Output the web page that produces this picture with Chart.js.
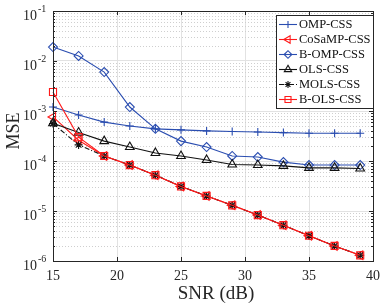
<!DOCTYPE html>
<html>
<head>
<meta charset="utf-8">
<script src="https://cdn.jsdelivr.net/npm/chart.js@4/dist/chart.umd.min.js"></script>
<style>
html, body { margin: 0; padding: 0; background: #fff; }
</style>
</head>
<body>
<canvas id="c" width="387" height="308"></canvas>
<script>
// SNR points (dB)
var snr = [15, 17, 19, 21, 23, 25, 27, 29, 31, 33, 35, 37, 39];

// MSE
var ompCss    = [1.2e-3, 8.3e-4, 6.0e-4, 5.0e-4, 4.4e-4, 4.2e-4, 4.0e-4, 3.9e-4, 3.8e-4, 3.7e-4, 3.6e-4, 3.6e-4, 3.6e-4];
var cosampCss = [7.6e-4, 2.6e-4, 1.26e-4, 8.3e-5, 5.2e-5, 3.1e-5, 2.0e-5, 1.3e-5, 8.3e-6, 5.2e-6, 3.2e-6, 2.0e-6, 1.3e-6];
var bOmpCss   = [1.9e-2, 1.26e-2, 6.0e-3, 1.2e-3, 4.4e-4, 2.5e-4, 1.9e-4, 1.26e-4, 1.2e-4, 9.5e-5, 8.3e-5, 8.3e-5, 8.3e-5];
var olsCss    = [5.7e-4, 3.7e-4, 2.5e-4, 1.9e-4, 1.45e-4, 1.26e-4, 1.05e-4, 8.5e-5, 8.3e-5, 8.0e-5, 7.3e-5, 7.3e-5, 7.1e-5];
var molsCss   = [5.6e-4, 2.1e-4, 1.26e-4, 8.3e-5, 5.2e-5, 3.1e-5, 2.0e-5, 1.3e-5, 8.3e-6, 5.2e-6, 3.2e-6, 2.0e-6, 1.3e-6];
var bOlsCss   = [2.4e-3, 3.0e-4, 1.26e-4, 8.3e-5, 5.2e-5, 3.1e-5, 2.0e-5, 1.3e-5, 8.3e-6, 5.2e-6, 3.2e-6, 2.0e-6, 1.3e-6];

var seriesNames = ['OMP-CSS', 'CoSaMP-CSS', 'B-OMP-CSS', 'OLS-CSS', 'MOLS-CSS', 'B-OLS-CSS'];
var xTicks = [15, 20, 25, 30, 35, 40];
var yExp = [-6, -5, -4, -3, -2, -1];

var blue = '#2a4db0';
var red = '#ff1a1a';
var black = '#111111';
var serif = '"Liberation Serif", "Times New Roman", serif';

function pts(arr) {
  return snr.map(function (s, i) { return { x: s, y: arr[i] }; });
}

function ds(label, arr, color, style, radius, rot, dash) {
  return {
    label: label,
    data: pts(arr),
    borderColor: color,
    backgroundColor: color,
    borderWidth: 1.1,
    borderDash: dash || [],
    pointStyle: style,
    pointRadius: radius,
    pointRotation: rot || 0,
    pointBorderColor: color,
    pointBackgroundColor: 'rgba(0,0,0,0)',
    pointBorderWidth: 1.1,
    tension: 0,
    clip: 10
  };
}

var datasets = [
  ds(seriesNames[0], ompCss, blue, 'cross', 4),
  ds(seriesNames[1], cosampCss, red, 'triangle', 5, -90),
  ds(seriesNames[2], bOmpCss, blue, 'rectRot', 4.5),
  ds(seriesNames[3], olsCss, black, 'triangle', 5),
  ds(seriesNames[4], molsCss, black, 'star', 4, 0, [5, 2, 1, 2]),
  ds(seriesNames[5], bOlsCss, red, 'rect', 5)
];
// later series on top, like the original
datasets.forEach(function (d, i) { d.order = datasets.length - i; });

var decor = {
  id: 'decor',
  beforeDatasetsDraw: function (chart) {
    var ctx = chart.ctx, a = chart.chartArea, y = chart.scales.y;
    ctx.save();
    ctx.strokeStyle = '#cfcfcf';
    ctx.lineWidth = 1;
    ctx.setLineDash([1, 2]);
    for (var e = -6; e < -1; e++) {
      for (var m = 2; m <= 9; m++) {
        var py = Math.round(y.getPixelForValue(m * Math.pow(10, e))) + 0.5;
        ctx.beginPath();
        ctx.moveTo(a.left, py);
        ctx.lineTo(a.right, py);
        ctx.stroke();
      }
    }
    ctx.restore();
  },
  afterDraw: function (chart) {
    var ctx = chart.ctx, a = chart.chartArea, y = chart.scales.y, x = chart.scales.x;
    ctx.save();
    // box
    ctx.strokeStyle = '#262626';
    ctx.lineWidth = 1;
    ctx.strokeRect(Math.round(a.left) + 0.5, Math.round(a.top) + 0.5,
      Math.round(a.right - a.left), Math.round(a.bottom - a.top));
    // inward ticks
    ctx.beginPath();
    for (var e = -6; e <= -1; e++) {
      for (var m = 1; m <= 9; m++) {
        if (e === -1 && m > 1) break;
        var py = Math.round(y.getPixelForValue(m * Math.pow(10, e))) + 0.5;
        var len = m === 1 ? 4 : 2;
        ctx.moveTo(a.left, py); ctx.lineTo(a.left + len, py);
        ctx.moveTo(a.right, py); ctx.lineTo(a.right - len, py);
      }
    }
    xTicks.forEach(function (t) {
      var px = Math.round(x.getPixelForValue(t)) + 0.5;
      ctx.moveTo(px, a.bottom); ctx.lineTo(px, a.bottom - 4);
      ctx.moveTo(px, a.top); ctx.lineTo(px, a.top + 4);
    });
    ctx.stroke();

    // y tick labels 10^n
    ctx.fillStyle = '#262626';
    yExp.forEach(function (e) {
      var py = y.getPixelForValue(Math.pow(10, e));
      ctx.font = '14px ' + serif;
      ctx.textAlign = 'right';
      ctx.textBaseline = 'middle';
      ctx.fillText('10', 37, py + 5);
      ctx.font = '10px ' + serif;
      ctx.textAlign = 'left';
      ctx.fillText(String(e), 38, py - 2);
    });

    // axis titles
    ctx.font = '19px ' + serif;
    ctx.textAlign = 'center';
    ctx.textBaseline = 'middle';
    ctx.fillText('SNR (dB)', (a.left + a.right) / 2 + 3, 294);
    ctx.save();
    ctx.font = '18px ' + serif;
    ctx.translate(14, 131);
    ctx.rotate(-Math.PI / 2);
    ctx.fillText('MSE', 0, 0);
    ctx.restore();

    // legend box
    var lx = 276, ly = 15, lw = 97, lh = 93;
    ctx.fillStyle = '#ffffff';
    ctx.fillRect(lx, ly, lw, lh);
    ctx.strokeStyle = '#262626';
    ctx.lineWidth = 1;
    ctx.strokeRect(lx + 0.5, ly + 0.5, lw, lh);
    chart.data.datasets.forEach(function (d, i) {
      var ry = 24 + i * 15;
      ctx.save();
      ctx.strokeStyle = d.borderColor;
      ctx.lineWidth = 1.1;
      ctx.setLineDash(d.borderDash);
      ctx.beginPath();
      ctx.moveTo(279, ry + 0.5);
      ctx.lineTo(297, ry + 0.5);
      ctx.stroke();
      ctx.setLineDash([]);
      ctx.fillStyle = 'rgba(0,0,0,0)';
      Chart.helpers.drawPoint(ctx, {
        pointStyle: d.pointStyle,
        radius: d.pointRadius * 0.85,
        rotation: d.pointRotation,
        borderWidth: 1.1
      }, 288, ry + 0.5);
      ctx.restore();
      ctx.fillStyle = '#111';
      ctx.font = '12.5px ' + serif;
      ctx.textAlign = 'left';
      ctx.textBaseline = 'middle';
      ctx.fillText(d.label, 299, ry + 1);
    });
    ctx.restore();
  }
};

new Chart(document.getElementById('c'), {
  type: 'line',
  data: { datasets: datasets },
  options: {
    responsive: false,
    animation: false,
    devicePixelRatio: 1,
    layout: { padding: { left: 0, right: 11, top: 11, bottom: 0 } },
    plugins: { legend: { display: false }, tooltip: { enabled: false } },
    scales: {
      x: {
        type: 'linear',
        min: 15,
        max: 40,
        afterBuildTicks: function (s) { s.ticks = xTicks.map(function (v) { return { value: v }; }); },
        afterFit: function (s) { s.height = 47; },
        grid: { color: '#e2e2e2', drawTicks: false },
        border: { display: false },
        ticks: { font: { family: serif, size: 14 }, color: '#262626', padding: 7, maxRotation: 0 }
      },
      y: {
        type: 'logarithmic',
        min: 1e-6,
        max: 1e-1,
        afterBuildTicks: function (s) { s.ticks = yExp.map(function (e) { return { value: Math.pow(10, e) }; }); },
        afterFit: function (s) { s.width = 53; },
        grid: { color: '#e2e2e2', drawTicks: false },
        border: { display: false },
        ticks: { display: false }
      }
    }
  },
  plugins: [decor]
});
</script>
</body>
</html>
